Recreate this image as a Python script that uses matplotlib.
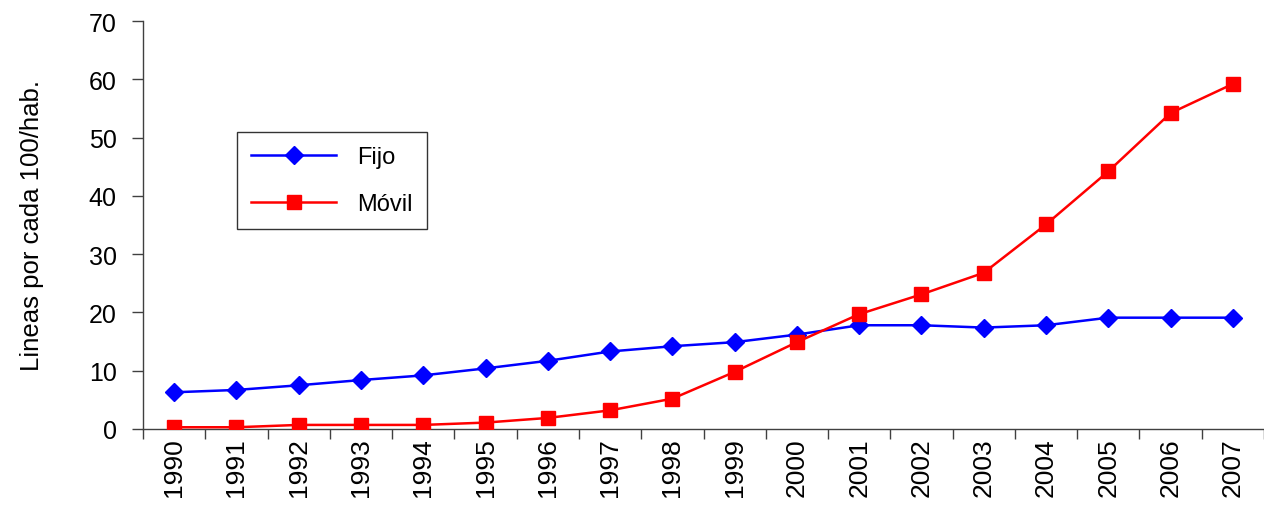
import numpy as np
import matplotlib

matplotlib.use("Agg")
import matplotlib.pyplot as plt

plt.rcParams["font.family"] = ["Liberation Sans", "DejaVu Sans"]

# Data
years = [str(y) for y in range(1990, 2008)]
fijo = [6.3, 6.7, 7.5, 8.4, 9.2, 10.4, 11.7, 13.3, 14.2, 14.9,
        16.2, 17.8, 17.8, 17.4, 17.8, 19.1, 19.1, 19.1]
movil = [0.3, 0.3, 0.7, 0.7, 0.7, 1.1, 1.9, 3.2, 5.2, 9.8,
         14.9, 19.7, 23.1, 26.8, 35.1, 44.2, 54.2, 59.2]
y_ticks = [0, 10, 20, 30, 40, 50, 60, 70]

fig = plt.figure(figsize=(12.64, 5.06), dpi=100)
ax = fig.add_axes([143 / 1264, 1 - 430 / 506, 1 - 143 / 1264, (430 - 22) / 506])

x = np.arange(len(years))
ax.plot(x, fijo, color="#0000FF", lw=1.8, marker="D", ms=9.5, label="Fijo", zorder=3)
ax.plot(x, movil, color="#FF0000", lw=1.8, marker="s", ms=10, label="Móvil", zorder=4)

ax.set_ylim(0, 70)
ax.set_yticks(y_ticks)
ax.set_xlim(-0.5, 17 + 20 / 63)

# category labels centred, tick marks between categories
ax.set_xticks(x)
ax.set_xticklabels(years, rotation=90, fontsize=19)
ax.set_xticks(np.arange(-0.5, 17.6, 1), minor=True)
ax.tick_params(axis="x", which="major", length=0, pad=6)
ax.tick_params(axis="x", which="minor", length=7, width=1, color="#404040", direction="out")
ax.tick_params(axis="y", labelsize=18, length=8, width=1, color="#404040", direction="out", pad=11)

for side in ["top", "right"]:
    ax.spines[side].set_visible(False)
for side in ["left", "bottom"]:
    ax.spines[side].set_color("#404040")
    ax.spines[side].set_linewidth(1)
ax.spines["bottom"].set_zorder(2)

ax.set_ylabel("Lineas por cada 100/hab.", fontsize=18.5, labelpad=32)

leg = ax.legend(loc="upper left", bbox_to_anchor=((237 - 143) / 1121, (430 - 133) / 408),
                fontsize=17, frameon=True, fancybox=False, handlelength=3.6,
                borderpad=0.6, labelspacing=1.05, handletextpad=0.9, borderaxespad=0)
leg.get_frame().set_edgecolor("black")
leg.get_frame().set_linewidth(1)

fig.savefig("out.png", dpi=100)
